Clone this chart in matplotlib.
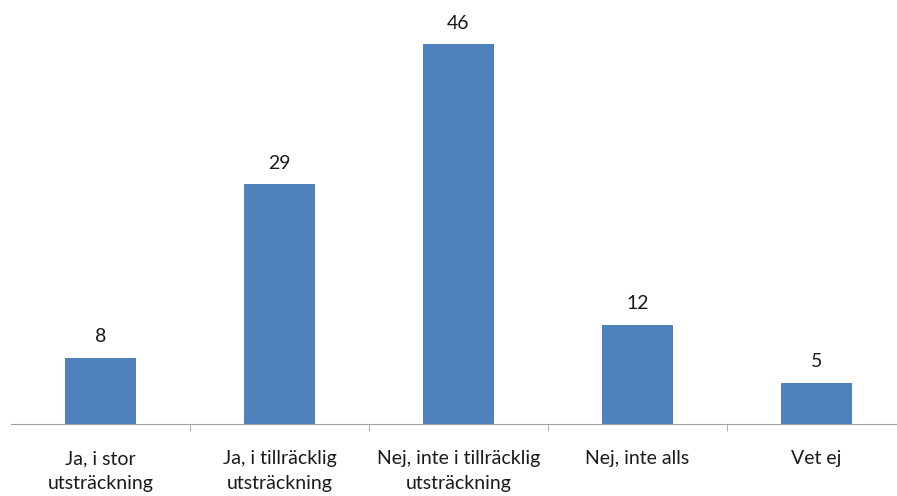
import matplotlib.pyplot as plt

# Survey answers and counts
categories = ["Ja, i stor\nutsträckning", "Ja, i tillräcklig\nutsträckning",
              "Nej, inte i tillräcklig\nutsträckning", "Nej, inte alls", "Vet ej"]
counts = [8, 29, 46, 12, 5]

plt.rcParams['font.family'] = ['Lato', 'DejaVu Sans']

fig = plt.figure(figsize=(8.97, 4.96), dpi=100)
ax = fig.add_axes([11 / 897, 72 / 496, 895 / 897, 413 / 496])

x = range(len(categories))
bars = ax.bar(x, counts, width=0.4, color="#4F81BD")

# value labels above each bar
for rect, val in zip(bars, counts):
    ax.annotate(str(val), (rect.get_x() + rect.get_width() / 2, rect.get_height()),
                xytext=(0, 9), textcoords="offset points",
                ha="center", va="bottom", fontsize=14, color="#1a1a1a")

ax.set_xlim(-0.5, len(categories) - 0.5)
ax.set_ylim(0, 50)

ax.set_xticks(list(x))
ax.set_xticklabels(categories, fontsize=14, color="#1a1a1a", linespacing=1.55)
ax.tick_params(axis="x", length=0, pad=19)

# small tick marks between categories
ax.set_xticks([i + 0.5 for i in range(len(categories) - 1)], minor=True)
ax.tick_params(axis="x", which="minor", length=5, color="#A0A0A0")

ax.set_yticks([])
for side in ["top", "right", "left"]:
    ax.spines[side].set_visible(False)
ax.spines["bottom"].set_color("#A0A0A0")

fig.savefig("out.png", dpi=100)
